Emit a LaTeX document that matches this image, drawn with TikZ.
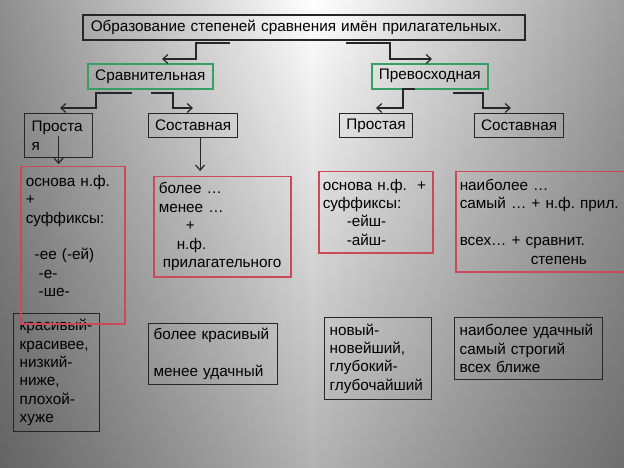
\documentclass[tikz,border=0pt]{standalone}
\usepackage{fontspec}
\setmainfont{Liberation Sans}
\usetikzlibrary{arrows.meta,fadings}
\frenchspacing

\definecolor{boxred}{RGB}{205,72,88}
\definecolor{boxgreen}{RGB}{52,160,100}

\begin{document}
\begin{tikzpicture}[
    x=1pt,y=-1pt,
    every node/.style={font=\fontsize{15.3}{18.4}\selectfont,inner xsep=5pt,inner ysep=0pt,align=left,anchor=north west},
    titlebox/.style={draw=black!85,line width=1.6pt},
    kindbox/.style={draw=boxgreen,line width=1.6pt,align=center},
    formbox/.style={draw=black!85,line width=1.2pt},
    rulebox/.style={draw=boxred,line width=1.5pt},
    arrow/.style={-{Straight Barb[length=5pt,width=9pt]},line width=1.2pt,black!85}
]

% background
\useasboundingbox (0,0) rectangle (624,468);
\shade[left color=black!44,right color=black!38,middle color=white] (0,0) rectangle (624,468);
\fill[black,path fading=north,fill opacity=.3] (0,0) rectangle (624,468);

% headings
\node[titlebox,minimum width=442pt,minimum height=25pt,text width=426pt,inner xsep=8pt] (title) at (82,14) {Образование степеней сравнения имён прилагательных.};
\node[kindbox,minimum width=125pt,minimum height=25pt] (srav) at (87,63) {Сравнительная};
\node[kindbox,minimum width=116pt,minimum height=25pt] (prev) at (371,63) {Превосходная};

\node[formbox,minimum width=68pt,minimum height=44pt,text width=54pt,inner xsep=7pt] (prost1) at (24,113) {Проста\\я};
\node[formbox,minimum width=89pt,minimum height=24pt,align=center] (sost1) at (148,113) {Составная};
\node[formbox,minimum width=73pt,minimum height=24pt,align=center] (prost2) at (339,113) {Простая};
\node[formbox,minimum width=89pt,minimum height=24pt,align=center] (sost2) at (474,113) {Составная};

% rules
\node[formbox,minimum width=86pt,minimum height=118pt,text width=74pt,inner xsep=6pt] (kras) at (13,313) {\mbox{красивый-}\\\mbox{красивее,}\\\mbox{низкий-}\\ниже,\\\mbox{плохой-}\\хуже};
\node[rulebox,minimum width=104pt,minimum height=157pt,text width=94pt] (rule1) at (20,166) {основа н.ф.\\+\\суффиксы:\\[18.4pt]\hspace*{9pt}-ее (-ей)\\\hspace*{13pt}-е-\\\hspace*{13pt}-ше-\\\mbox{}};
\node[rulebox,minimum width=137pt,minimum height=100pt,text width=127pt] (rule2) at (153,176) {более …\\менее …\\\hspace*{27pt}+\\\hspace*{18pt}н.ф.\\\hspace*{4pt}прилагательного};
\node[rulebox,minimum width=114pt,minimum height=81pt,text width=106pt,inner xsep=4pt] (rule3) at (318,171) {основа н.ф.~~+\\суффиксы:\\\hspace*{24pt}-ейш-\\\hspace*{24pt}-айш-};
\node[rulebox,minimum width=172pt,minimum height=100pt,text width=164pt,inner xsep=4pt] (rule4) at (455,171) {наиболее …\\\mbox{самый … + н.ф. прил.}\\[18.4pt]всех… + сравнит.\\\hspace*{71pt}степень};

% examples
\node[formbox,minimum width=129pt,minimum height=61pt,text width=119pt] (ex2) at (148,323) {более красивый\\[18.4pt]менее удачный};
\node[formbox,minimum width=107pt,minimum height=82pt,text width=97pt] (ex3) at (324,317) {новый-\\новейший,\\глубокий-\\глубочайший};
\node[formbox,minimum width=148pt,minimum height=62pt,text width=138pt] (ex4) at (454,317) {наиболее удачный\\самый строгий\\всех ближе};

% connectors
\coordinate (tl) at (230,43);
\coordinate (tr) at (346,43);
\coordinate (sl) at (132,93);
\coordinate (sr) at (151,93);
\coordinate (pl) at (415,89);
\coordinate (pr) at (453,93);
\draw[arrow] (tl) -- ++(-34,0) -- ++(0,16) -- ++(-34,0);
\draw[arrow] (tr) -- ++(44,0) -- ++(0,16) -- ++(42,0);
\draw[arrow] (sl) -- ++(-36,0) -- ++(0,15) -- ++(-36,0);
\draw[arrow] (sr) -- ++(22,0) -- ++(0,15) -- ++(20,0);
\draw[arrow] (pl) -- ++(-12,0) -- ++(0,19) -- ++(-27,0);
\draw[arrow] (pr) -- ++(30,0) -- ++(0,15) -- ++(28,0);
\draw[arrow,shorten >=2pt] (prost1.center) -- (prost1.center |- rule1.north);
\draw[arrow,shorten >=5pt] ([xshift=7pt]sost1.south) -- ([xshift=7pt]sost1.south |- rule2.north);

\end{tikzpicture}
\end{document}
